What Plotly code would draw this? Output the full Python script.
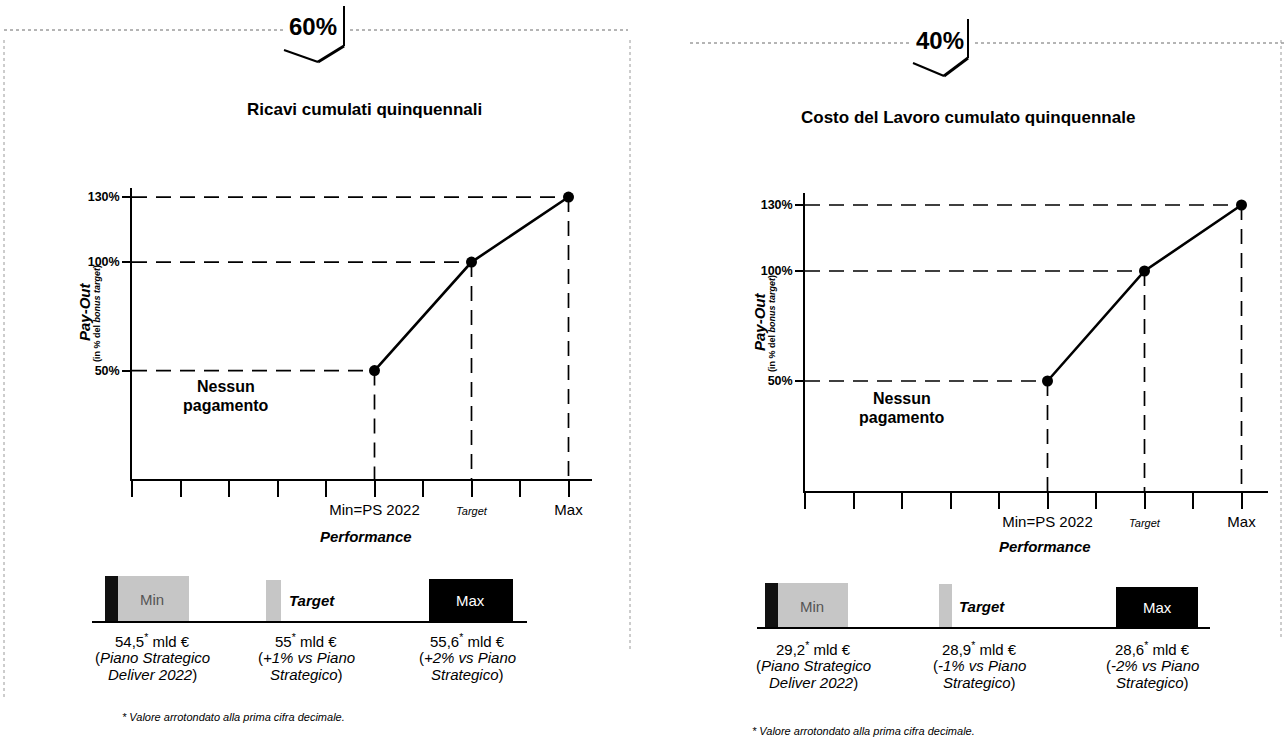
import plotly.graph_objects as go

W, H = 1286, 744
FONT = "Liberation Sans, Arial, Helvetica, sans-serif"

# ---------------- data ----------------
perf_positions = [5, 7, 9]            # Min, Target, Max on the performance scale
payout_left = [50, 100, 130]          # Ricavi cumulati quinquennali
payout_right = [50, 100, 130]         # Costo del Lavoro cumulato quinquennale
x_tickvals = [0, 1, 2, 3, 4, 5, 6, 7, 8, 9]
x_ticktext = ["", "", "", "", "", "Min=PS 2022", "",
              "<span style='font-size:11px'><i>Target</i></span>", "", "Max"]
y_tickvals = [50, 100, 130]
y_ticktext = ["<b>50%</b>", "<b>100%</b>", "<b>130%</b>"]

weights = ["60%", "40%"]
titles = ["Ricavi cumulati quinquennali", "Costo del Lavoro cumulato quinquennale"]

left_values = ["54,5", "55", "55,6"]
left_notes = [("(<i>Piano Strategico</i>", "<i>Deliver 2022</i>)"),
              ("(<i>+1% vs Piano</i>", "<i>Strategico</i>)"),
              ("(<i>+2% vs Piano</i>", "<i>Strategico</i>)")]
right_values = ["29,2", "28,9", "28,6"]
right_notes = [("(<i>Piano Strategico</i>", "<i>Deliver 2022</i>)"),
               ("(<i>-1% vs Piano</i>", "<i>Strategico</i>)"),
               ("(<i>-2% vs Piano</i>", "<i>Strategico</i>)")]
footnote = "* Valore arrotondato alla prima cifra decimale."


def X(px):
    return px / W


def Y(py):
    return 1 - py / H


fig = go.Figure()

panels = [
    dict(xa="x", ya="y", payout=payout_left),
    dict(xa="x2", ya="y2", payout=payout_right),
]

dash_style = "15px,9px"
for p in panels:
    xs, ys = perf_positions, p["payout"]
    for xv, yv in zip(xs, ys):
        fig.add_trace(go.Scatter(x=[0, xv], y=[yv, yv], mode="lines",
                                 line=dict(color="black", width=1.7, dash=dash_style),
                                 xaxis=p["xa"], yaxis=p["ya"], showlegend=False, hoverinfo="skip"))
        fig.add_trace(go.Scatter(x=[xv, xv], y=[yv, 0], mode="lines",
                                 line=dict(color="black", width=1.7, dash=dash_style),
                                 xaxis=p["xa"], yaxis=p["ya"], showlegend=False, hoverinfo="skip"))
    fig.add_trace(go.Scatter(x=xs, y=ys, mode="lines+markers",
                             line=dict(color="black", width=2.6),
                             marker=dict(color="black", size=11),
                             xaxis=p["xa"], yaxis=p["ya"], showlegend=False))

common_x = dict(tickvals=x_tickvals, ticktext=x_ticktext, ticks="outside", ticklen=16,
                tickwidth=1.5, tickcolor="black", showline=True, linecolor="black", linewidth=1.6,
                showgrid=False, zeroline=False, tickfont=dict(family=FONT, size=15, color="black"),
                fixedrange=True)
common_y = dict(tickvals=y_tickvals, ticktext=y_ticktext, ticks="outside", ticklen=8,
                tickwidth=1.5, tickcolor="black", showline=True, linecolor="black", linewidth=1.6,
                showgrid=False, zeroline=False, tickfont=dict(family=FONT, size=12.5, color="black"),
                fixedrange=True)

fig.update_layout(
    width=W, height=H, margin=dict(l=0, r=0, t=0, b=0),
    paper_bgcolor="white", plot_bgcolor="rgba(0,0,0,0)",
    font=dict(family=FONT, color="black"),
    xaxis=dict(common_x, domain=[X(132), X(592)], range=[0, (592 - 132) / 48.5], anchor="y"),
    yaxis=dict(common_y, domain=[Y(479), Y(188)], range=[0, (479 - 188) / 2.169], anchor="x"),
    xaxis2=dict(common_x, domain=[X(805), X(1268)], range=[0, (1268 - 805) / 48.5], anchor="y2"),
    yaxis2=dict(common_y, domain=[Y(491), Y(193)], range=[0, (491 - 193) / 2.2], anchor="x2"),
)

ann = []
shapes = []


def text(px, py, t, size=13, xanchor="center", color="black", angle=0, yanchor="middle"):
    ann.append(dict(x=X(px), y=Y(py), xref="paper", yref="paper", text=t, showarrow=False,
                    xanchor=xanchor, yanchor=yanchor, textangle=angle,
                    font=dict(family=FONT, size=size, color=color)))


def line(x0, y0, x1, y1, width=1.0, color="black", dash="solid"):
    shapes.append(dict(type="line", xref="paper", yref="paper", x0=X(x0), y0=Y(y0), x1=X(x1), y1=Y(y1),
                       line=dict(color=color, width=width, dash=dash)))


def rect(x0, y0, x1, y1, fill):
    shapes.append(dict(type="rect", xref="paper", yref="paper", x0=X(x0), y0=Y(y0), x1=X(x1), y1=Y(y1),
                       fillcolor=fill, line=dict(width=0), layer="below"))


# ---- header: dotted lines, weight badges and chevrons ----
line(4, 30, 283, 30, 1.0, "#6a6a6a", "dot")
line(350, 30, 628, 30, 1.0, "#6a6a6a", "dot")
line(690, 43, 912, 43, 1.0, "#6a6a6a", "dot")
line(975, 43, 1284, 43, 1.0, "#6a6a6a", "dot")
text(313, 27, "<b>" + weights[0] + "</b>", 24)
text(940, 41, "<b>" + weights[1] + "</b>", 24)
# chevrons
line(344, 6, 344, 46, 2.0)
line(344, 46, 318, 62, 3.0)
line(318, 62, 284, 50, 2.0)
line(968, 19, 968, 58, 2.0)
line(968, 58, 944, 76, 3.0)
line(944, 76, 913, 63, 2.0)

# faint side borders from the scan
line(4, 40, 4, 700, 1.0, "#9a9a9a", "dot")
line(630, 40, 630, 650, 1.0, "#9a9a9a", "dot")
line(1281, 40, 1281, 640, 1.0, "#9a9a9a", "dot")

# titles
text(365, 110, "<b>" + titles[0] + "</b>", 17)
text(968, 118, "<b>" + titles[1] + "</b>", 17)

# axis titles
text(84, 312, "<b><i>Pay-Out</i></b>", 15, angle=-90)
text(97, 314, "<b>(in % del <i>bonus target</i>)</b>", 9, angle=-90)
text(759, 322, "<b><i>Pay-Out</i></b>", 15, angle=-90)
text(772, 324, "<b>(in % del <i>bonus target</i>)</b>", 9, angle=-90)

text(366, 536, "<b><i>Performance</i></b>", 15)
text(1045, 546, "<b><i>Performance</i></b>", 15)

text(226, 386, "<b>Nessun</b>", 16)
text(226, 406, "<b>pagamento</b>", 16)
text(902, 398, "<b>Nessun</b>", 16)
text(902, 418, "<b>pagamento</b>", 16)

# ---- bottom legend rows ----
# left
line(92, 622, 527, 622, 1.8)
rect(105, 576, 189, 622, "#c6c6c6")
rect(105, 576, 118, 622, "#111111")
text(152, 599, "Min", 15, color="#555555")
rect(266, 580, 281, 622, "#c6c6c6")
text(287, 600, "<b><i>Target</i></b>", 15, xanchor="left")
rect(429, 579, 513, 622, "#000000")
text(471, 600, "Max", 15, color="white")
centers_left = [152, 306, 467]
for cx, v, n in zip(centers_left, left_values, left_notes):
    text(cx, 640, v + "<sup>*</sup> mld €", 15)
    text(cx, 657, n[0], 15)
    text(cx, 674, n[1], 15)
text(120, 717, "<i>" + footnote + "</i>", 11, xanchor="left")

# right
line(757, 628, 1210, 628, 1.8)
rect(765, 583, 848, 628, "#c6c6c6")
rect(765, 583, 778, 628, "#111111")
text(812, 606, "Min", 15, color="#555555")
rect(939, 584, 952, 628, "#c6c6c6")
text(957, 606, "<b><i>Target</i></b>", 15, xanchor="left")
rect(1116, 587, 1198, 628, "#000000")
text(1157, 607, "Max", 15, color="white")
centers_right = [813, 980, 1152]
for cx, v, n in zip(centers_right, right_values, right_notes):
    text(cx, 648, v + "<sup>*</sup> mld €", 15)
    text(cx, 665, n[0], 15)
    text(cx, 682, n[1], 15)
text(750, 731, "<i>" + footnote + "</i>", 11, xanchor="left")

fig.update_layout(annotations=ann, shapes=shapes)
fig.write_html("out.html", config={"displayModeBar": False},
               post_script="document.body.style.margin='0px';")
